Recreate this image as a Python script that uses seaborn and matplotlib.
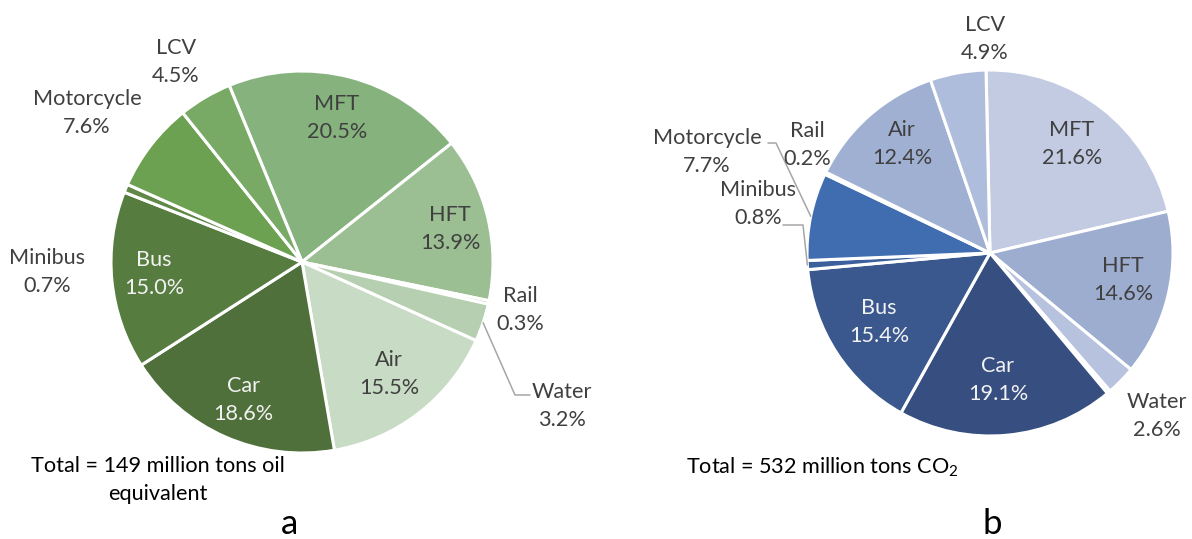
import matplotlib
matplotlib.use("Agg")
import numpy as np
import matplotlib.pyplot as plt
import seaborn as sns

# data (percent of total)
energy_modes = ["MFT", "HFT", "Rail", "Water", "Air", "Car", "Bus", "Minibus", "Motorcycle", "LCV"]
energy_share = [20.5, 13.9, 0.3, 3.2, 15.5, 18.6, 15.0, 0.7, 7.6, 4.5]

co2_modes = ["MFT", "HFT", "Water", "", "Car", "Bus", "Minibus", "Motorcycle", "Rail", "Air", "LCV"]
co2_share = [21.6, 14.6, 2.6, 0.3, 19.1, 15.4, 0.8, 7.7, 0.2, 12.4, 4.9]

energy_total = "Total = 149 million tons oil\nequivalent"
co2_total = r"Total = 532 million tons CO$_\mathregular{2}$"

# colours
green_pal = sns.color_palette(["#86b27e", "#9bbe92", "#a9c9a0", "#b6cfb0", "#c8dbc4",
                               "#4f703a", "#577c3f", "#608846", "#6ba150", "#78aa65"])
blue_pal = sns.color_palette(["#c2cbe2", "#9dadd0", "#b7c2de", "#d9dfee", "#364e80",
                              "#3a588e", "#3c609b", "#3f6db0", "#8a9ccb", "#a0b0d2", "#aebddb"])

sns.set_theme(style="white")
plt.rcParams["font.family"] = ["Lato", "DejaVu Sans"]
plt.rcParams["mathtext.fontset"] = "custom"
plt.rcParams["mathtext.rm"] = "Lato"

W, H = 1192, 539
fig = plt.figure(figsize=(W / 100, H / 100), dpi=100)
ax = fig.add_axes([0, 0, 1, 1])


def py(y):
    # image row -> data y
    return H - y


# label centres (image pixels)
left_pos = {"MFT": (337, 118), "HFT": (450, 229), "Rail": (520, 310), "Water": (562, 406),
            "Air": (389, 374), "Car": (243, 400), "Bus": (154, 274), "Minibus": (47, 272),
            "Motorcycle": (87, 113), "LCV": (176, 62)}
right_pos = {"MFT": (1072, 144), "HFT": (1123, 280), "Water": (1157, 416), "Car": (998, 380),
             "Bus": (879, 322), "Minibus": (758, 204), "Motorcycle": (707, 152),
             "Rail": (807, 145), "Air": (902, 144), "LCV": (985, 39)}
dark_slices = ["Car", "Bus"]

# leader lines: slice -> elbow -> end
left_leaders = {"Water": [(515, 395), (530, 395)]}
right_leaders = {"Motorcycle": [(776, 143), (768, 143)],
                 "Minibus": [(803, 225), (783, 225)]}


def draw_pie(modes, share, pal, center, radius, start, pos, leaders):
    wedges, _ = ax.pie(share, colors=pal, startangle=start, counterclock=False,
                       center=(center[0], py(center[1])), radius=radius,
                       wedgeprops=dict(edgecolor="white", linewidth=2.2))
    for w, name, val in zip(wedges, modes, share):
        if not name:
            continue
        x, y = pos[name]
        col = "#f2f2f2" if name in dark_slices else "#404040"
        ax.text(x, py(y), f"{name}\n{val:.1f}%", ha="center", va="center",
                fontsize=15.6, color=col, linespacing=1.55)
        if name in leaders:
            mid = np.deg2rad((w.theta1 + w.theta2) / 2)
            xs = [w.center[0] + w.r * np.cos(mid)]
            ys = [w.center[1] + w.r * np.sin(mid)]
            for ex, ey in leaders[name]:
                xs.append(ex)
                ys.append(py(ey))
            ax.plot(xs, ys, color="#a6a6a6", lw=1.1)


draw_pie(energy_modes, energy_share, green_pal, (302, 262), 191, 112.4, left_pos, left_leaders)
draw_pie(co2_modes, co2_share, blue_pal, (990, 253), 183, 91.25, right_pos, right_leaders)

ax.text(158, py(480), energy_total, ha="center", va="center", fontsize=15.6,
        color="black", linespacing=1.55)
ax.text(686, py(467), co2_total, ha="left", va="center", fontsize=15.6, color="black")
ax.text(290, py(524), "a", ha="center", va="center", fontsize=25, color="black")
ax.text(992, py(524), "b", ha="center", va="center", fontsize=25, color="black")

ax.set_xlim(0, W)
ax.set_ylim(0, H)
ax.set_axis_off()

fig.savefig("out.png", dpi=100, facecolor="white")
